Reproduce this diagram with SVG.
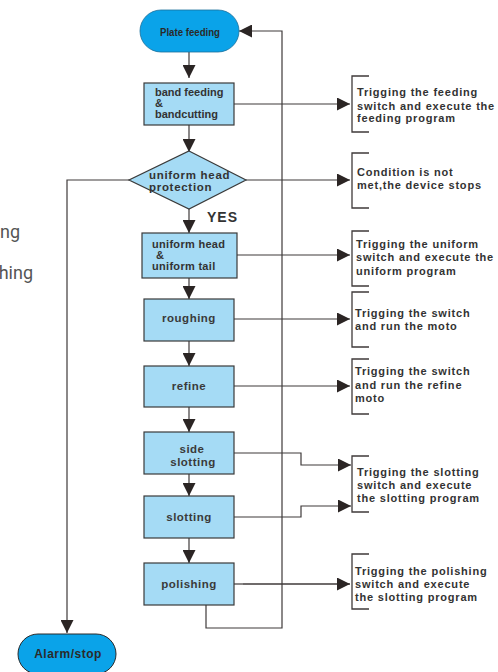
<svg xmlns="http://www.w3.org/2000/svg" width="498" height="672" viewBox="0 0 498 672">
<defs>
<style>
.box{fill:#A5DBF5;stroke:#3a3a3a;stroke-width:1.2}
.pill{fill:#0AA3E9;stroke:#1a6f9a;stroke-width:0.8}
.ln{fill:none;stroke:#3f3a3a;stroke-width:1.2}
.br{fill:none;stroke:#3f3a3a;stroke-width:1.3}
.t{font-family:"Liberation Sans",Arial,sans-serif;font-weight:bold;fill:#333;font-size:11px}
.bl{font-family:"Liberation Sans",Arial,sans-serif;font-weight:bold;fill:#3a3a3a;font-size:11.5px;letter-spacing:0.5px;text-anchor:middle}
.nt{font-family:"Liberation Sans",Arial,sans-serif;font-weight:bold;fill:#333;font-size:11px;letter-spacing:0.8px}
.side{font-family:Roboto,"Liberation Sans",sans-serif;fill:#555;font-size:18px}
</style>
<marker id="ah" viewBox="0 0 10 10" refX="10" refY="5" markerWidth="13" markerHeight="13" markerUnits="userSpaceOnUse" orient="auto">
<path d="M0,0 L10,5 L0,10 z" fill="#2b2524"/>
</marker>
</defs>
<rect width="498" height="672" fill="#ffffff"/>
<text class="side" x="0" y="238">ng</text>
<text class="side" x="33" y="279" text-anchor="end">hing</text>

<g id="connectors">
<path class="ln" d="M189,52 V78" marker-end="url(#ah)"/>
<path class="ln" d="M189,125 V152" marker-end="url(#ah)"/>
<path class="ln" d="M189,209 V233" marker-end="url(#ah)"/>
<path class="ln" d="M189,278 V299" marker-end="url(#ah)"/>
<path class="ln" d="M189,341 V366" marker-end="url(#ah)"/>
<path class="ln" d="M189,407 V432" marker-end="url(#ah)"/>
<path class="ln" d="M189,474 V496" marker-end="url(#ah)"/>
<path class="ln" d="M189,538 V563" marker-end="url(#ah)"/>
<path class="ln" d="M129,180 H67 V633" marker-end="url(#ah)"/>
<path class="ln" d="M206,605 V628 H282 V31 H239" marker-end="url(#ah)"/>
<path class="ln" d="M234,104 H350" marker-end="url(#ah)"/>
<path class="ln" d="M246,180 H350" marker-end="url(#ah)"/>
<path class="ln" d="M237,255 H350" marker-end="url(#ah)"/>
<path class="ln" d="M234,319 H350" marker-end="url(#ah)"/>
<path class="ln" d="M234,386 H350" marker-end="url(#ah)"/>
<path class="ln" d="M234,453 H301 V465 H351" marker-end="url(#ah)"/>
<path class="ln" d="M234,517 H301 V506 H351" marker-end="url(#ah)"/>
<path class="ln" d="M234,584 H243" />
<path class="ln" style="stroke-width:1.7" d="M243,584 H350" marker-end="url(#ah)"/>
</g>

<g id="plate-feeding">
<rect class="pill" x="140" y="10" width="99" height="42" rx="21"/>
<text x="190" y="36" font-family="'Liberation Sans',Arial,sans-serif" font-size="10.5" fill="#2a2a2a" text-anchor="middle" textLength="60" lengthAdjust="spacingAndGlyphs" style="font-weight:bold">Plate  feeding</text>
</g>

<g id="band-feeding">
<rect class="box" x="144" y="83" width="90" height="42"/>
<text class="t" x="155" y="96">band feeding</text>
<text class="t" x="155" y="107">&amp;</text>
<text class="t" x="155" y="118">bandcutting</text>
</g>

<g id="uniform-head-protection">
<polygon class="box" points="189,151 246,180 189,209 129,180"/>
<text class="t" x="149" y="179" style="font-size:11.5px;letter-spacing:0.7px">uniform head</text>
<text class="t" x="149" y="191" style="font-size:11.5px;letter-spacing:0.7px">protection</text>
<text class="t" x="207" y="222" style="font-size:14px;letter-spacing:1px">YES</text>
</g>

<g id="uniform-head-tail">
<rect class="box" x="142" y="233" width="95" height="45"/>
<text class="t" x="152" y="248" style="letter-spacing:0.3px">uniform head</text>
<text class="t" x="156" y="259">&amp;</text>
<text class="t" x="152" y="270" style="letter-spacing:0.3px">uniform tail</text>
</g>

<g id="roughing">
<rect class="box" x="144" y="299" width="90" height="42"/>
<text class="bl" x="189" y="322">roughing</text>
</g>

<g id="refine">
<rect class="box" x="144" y="366" width="90" height="41"/>
<text class="bl" x="189" y="390">refine</text>
</g>

<g id="side-slotting">
<rect class="box" x="144" y="432" width="90" height="42"/>
<text class="bl" x="192" y="453">side</text>
<text class="bl" x="193" y="466">slotting</text>
</g>

<g id="slotting">
<rect class="box" x="144" y="496" width="90" height="42"/>
<text class="bl" x="189" y="521">slotting</text>
</g>

<g id="polishing">
<rect class="box" x="144" y="563" width="90" height="42"/>
<text class="bl" x="189" y="588">polishing</text>
</g>

<g id="alarm-stop">
<rect class="pill" x="18" y="634" width="98" height="40" rx="20" style="stroke:#2a2a2a;stroke-width:1"/>
<text class="bl" x="68" y="658" style="font-size:12px;fill:#2a2a2a">Alarm/stop</text>
</g>

<g id="note-feeding">
<path class="br" d="M369,76 H352 V132 H369"/>
<text class="nt" x="357" y="96">Trigging the feeding</text>
<text class="nt" x="357" y="110">switch and execute the</text>
<text class="nt" x="357" y="122">feeding program</text>
</g>

<g id="note-condition">
<path class="br" d="M369,153 H352 V208 H369"/>
<text class="nt" x="357" y="176">Condition is not</text>
<text class="nt" x="357" y="189">met,the device stops</text>
</g>

<g id="note-uniform">
<path class="br" d="M369,231 H352 V286 H369"/>
<text class="nt" x="356" y="248">Trigging the uniform</text>
<text class="nt" x="356" y="261">switch and execute the</text>
<text class="nt" x="356" y="275">uniform program</text>
</g>

<g id="note-roughing">
<path class="br" d="M369,292 H352 V347 H369"/>
<text class="nt" x="355" y="317">Trigging the switch</text>
<text class="nt" x="355" y="330">and run the moto</text>
</g>

<g id="note-refine">
<path class="br" d="M369,359 H352 V414 H369"/>
<text class="nt" x="355" y="375">Trigging the switch</text>
<text class="nt" x="355" y="389">and run the refine</text>
<text class="nt" x="355" y="402">moto</text>
</g>

<g id="note-slotting">
<path class="br" d="M369,456 H352 V512 H369"/>
<text class="nt" x="357" y="476">Trigging the slotting</text>
<text class="nt" x="357" y="489">switch and execute</text>
<text class="nt" x="357" y="502">the slotting program</text>
</g>

<g id="note-polishing">
<path class="br" d="M369,554 H352 V609 H369"/>
<text class="nt" x="355" y="575">Trigging the polishing</text>
<text class="nt" x="355" y="588">switch and execute</text>
<text class="nt" x="355" y="601">the slotting program</text>
</g>
</svg>
